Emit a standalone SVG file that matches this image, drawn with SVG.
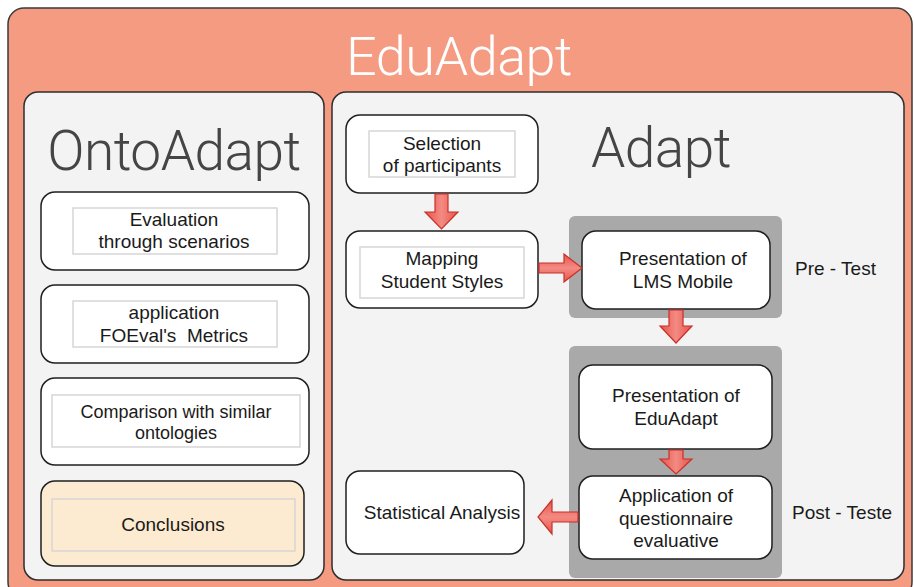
<svg xmlns="http://www.w3.org/2000/svg" width="914" height="587" viewBox="0 0 914 587">
  <defs>
    <linearGradient id="arrowFillV" x1="0" y1="0" x2="1" y2="0">
      <stop offset="0" stop-color="#e8534a"/>
      <stop offset="0.5" stop-color="#f38b83"/>
      <stop offset="1" stop-color="#e8534a"/>
    </linearGradient>
    <linearGradient id="arrowFillH" x1="0" y1="0" x2="0" y2="1">
      <stop offset="0" stop-color="#e8534a"/>
      <stop offset="0.5" stop-color="#f38b83"/>
      <stop offset="1" stop-color="#e8534a"/>
    </linearGradient>
  </defs>
  <style>
    .frame { fill: #f59b82; stroke: #3a3a3a; stroke-width: 1.5; }
    .panel { fill: #f3f3f3; stroke: #2e2e2e; stroke-width: 1.5; }
    .node { fill: #ffffff; stroke: #1f1f1f; stroke-width: 1.5; }
    .warm { fill: #fcebd0; stroke: #1f1f1f; stroke-width: 1.5; }
    .inner { fill: none; stroke: #d6d6d6; stroke-width: 1.5; }
    .stage { fill: #a9a9a9; }
    .lbl { font-family: "Liberation Sans", Arial, sans-serif; font-size: 19px; fill: #1a1a1a; text-anchor: middle; }
    .lbl.sm { font-size: 18px; }
    .side { font-family: "Liberation Sans", Arial, sans-serif; font-size: 19px; fill: #1a1a1a; }
    .head { font-family: Roboto, "Liberation Sans", sans-serif; font-weight: 300; text-anchor: middle; letter-spacing: -0.5px; }
    .arrowV { fill: url(#arrowFillV); stroke: #c8302a; stroke-width: 1.2; stroke-linejoin: miter; }
    .arrowH { fill: url(#arrowFillH); stroke: #c8302a; stroke-width: 1.2; stroke-linejoin: miter; }
  </style>

  <!-- outer frame -->
  <rect class="frame" x="8" y="8" width="904" height="590" rx="16"/>
  <text class="head" x="459" y="75" font-size="54" fill="#ffffff">EduAdapt</text>

  <!-- left panel: OntoAdapt -->
  <g id="panel-ontoadapt">
    <rect class="panel" x="24" y="92" width="300" height="488" rx="14"/>
    <text class="head" x="174" y="170" font-size="55" fill="#454545">OntoAdapt</text>
  </g>

  <!-- right panel: Adapt -->
  <g id="panel-adapt">
    <rect class="panel" x="332" y="92" width="572" height="488" rx="14"/>
    <text class="head" x="661" y="167" font-size="55" fill="#454545">Adapt</text>
  </g>

  <!-- stage backdrops -->
  <g id="stage-pretest">
    <rect class="stage" x="569" y="216" width="213" height="102" rx="6"/>
    <text class="side" x="795" y="275">Pre - Test</text>
  </g>
  <g id="stage-posttest">
    <rect class="stage" x="569" y="346" width="213" height="232" rx="6"/>
    <text class="side" x="792" y="519">Post - Teste</text>
  </g>

  <!-- OntoAdapt steps -->
  <g id="n-evaluation">
    <rect class="node" x="41" y="192" width="268" height="78" rx="14"/>
    <rect class="inner" x="73" y="208" width="204" height="46"/>
    <text class="lbl" x="174" y="226">Evaluation</text>
    <text class="lbl" x="174" y="248">through scenarios</text>
  </g>
  <g id="n-metrics">
    <rect class="node" x="41" y="285" width="268" height="78" rx="14"/>
    <rect class="inner" x="73" y="301" width="204" height="46"/>
    <text class="lbl" x="174" y="319">application</text>
    <text class="lbl" x="174" y="342" xml:space="preserve">FOEval's  Metrics</text>
  </g>
  <g id="n-comparison">
    <rect class="node" x="41" y="378" width="268" height="87" rx="14"/>
    <rect class="inner" x="52" y="395" width="248" height="52"/>
    <text class="lbl sm" x="176" y="418">Comparison with similar</text>
    <text class="lbl sm" x="176" y="439">ontologies</text>
  </g>
  <g id="n-conclusions">
    <rect class="warm" x="41" y="481" width="263" height="85" rx="14"/>
    <rect class="inner" x="52" y="499" width="243" height="52" stroke="#d9dde6"/>
    <text class="lbl" x="173" y="531">Conclusions</text>
  </g>

  <!-- Adapt steps -->
  <g id="n-selection">
    <rect class="node" x="346" y="115" width="192" height="78" rx="14"/>
    <rect class="inner" x="369" y="131" width="146" height="46"/>
    <text class="lbl" x="442" y="150">Selection</text>
    <text class="lbl" x="442" y="172">of participants</text>
  </g>
  <g id="n-mapping">
    <rect class="node" x="346" y="231" width="192" height="77" rx="14"/>
    <rect class="inner" x="360" y="247" width="164" height="51"/>
    <text class="lbl" x="442" y="265">Mapping</text>
    <text class="lbl" x="442" y="288">Student Styles</text>
  </g>
  <g id="n-lms">
    <rect class="node" x="582" y="231" width="188" height="78" rx="14"/>
    <text class="lbl" x="683" y="265">Presentation of</text>
    <text class="lbl" x="683" y="288">LMS Mobile</text>
  </g>
  <g id="n-eduadapt">
    <rect class="node" x="579" y="365" width="193" height="84" rx="14"/>
    <text class="lbl" x="676" y="402">Presentation of</text>
    <text class="lbl" x="676" y="425">EduAdapt</text>
  </g>
  <g id="n-questionnaire">
    <rect class="node" x="579" y="476" width="193" height="83" rx="14"/>
    <text class="lbl" x="676" y="502">Application of</text>
    <text class="lbl" x="676" y="525">questionnaire</text>
    <text class="lbl" x="676" y="547">evaluative</text>
  </g>
  <g id="n-statistical">
    <rect class="node" x="346" y="471" width="178" height="83" rx="14"/>
    <text class="lbl" x="442" y="519">Statistical Analysis</text>
  </g>

  <!-- block-arrow connectors -->
  <g id="connectors">
    <path class="arrowV" d="M435,194 H448 V212 H458 L441.5,229 L425,212 H435 Z"/>
    <path class="arrowH" d="M539,263 H564 V254 L582,268 L564,282 V273 H539 Z"/>
    <path class="arrowV" d="M669,310 H683 V326 H692 L676,343 L660,326 H669 Z"/>
    <path class="arrowV" d="M669,450 H683 V459 H692 L676,474 L660,459 H669 Z"/>
    <path class="arrowH" d="M578,512 H552 V500 L538,517 L552,534 V522 H578 Z"/>
  </g>
</svg>
